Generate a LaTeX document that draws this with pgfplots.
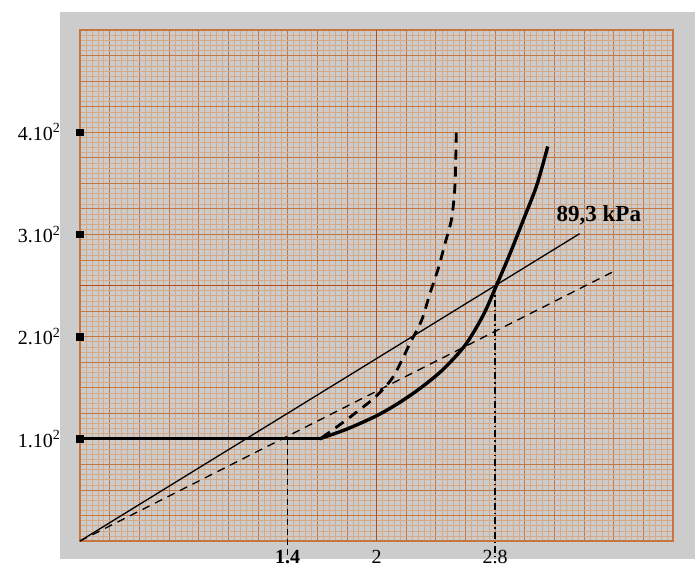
\documentclass[border=0pt]{standalone}
\usepackage{fontspec}
\setmainfont{Liberation Serif}
\usepackage{pgfplots}
\pgfplotsset{compat=1.18}
\definecolor{bggrey}{RGB}{204,204,204}
\definecolor{gridfine}{RGB}{214,170,134}
\definecolor{gridmed}{RGB}{198,118,62}
\definecolor{gridctr}{RGB}{182,76,26}
\begin{document}
\begin{tikzpicture}
\fill[bggrey] (-20pt,-18pt) rectangle (615pt,529pt);
\begin{axis}[
  at={(0pt,0pt)}, anchor=south west,
  scale only axis, width=593pt, height=511pt,
  xmin=0, xmax=4, ymin=0, ymax=500,
  clip=false,
  axis line style={draw=gridmed, line width=1.5pt},
  xtick={0,0.2,...,4.01},
  ytick={0,25,...,501},
  minor x tick num=4, minor y tick num=4,
  grid=both,
  minor grid style={draw=gridfine, line width=0.45pt},
  major grid style={draw=gridmed, line width=0.7pt},
  major tick length=0pt, minor tick length=0pt,
  xticklabels={,,,,,,,{\textbf{1.4}},,,2,,,,2.8,,,,,,},
  yticklabels={,,,,{1.10\textsuperscript{2}},,,,{2.10\textsuperscript{2}},,,,{3.10\textsuperscript{2}},,,,{4.10\textsuperscript{2}},,,,},
  xticklabel style={font=\fontsize{20}{22}\selectfont, anchor=north},
  yticklabel style={font=\fontsize{20}{22}\selectfont, anchor=east},
  xticklabel shift=6pt,
  yticklabel shift=16pt,
  extra x ticks={2}, extra y ticks={250},
  extra x tick labels={}, extra y tick labels={},
  extra tick style={grid=major, major grid style={draw=gridctr, line width=1.6pt}},
]
% tick squares
\addplot[only marks, mark=square*, mark size=3.3pt, black] coordinates {(0,100) (0,200) (0,300) (0,400)};
% thin solid line 89.3 kPa
\addplot[black, line width=1.3pt] coordinates {(0,0) (3.37,300.7)};
% thin dashed line
\addplot[black, line width=1.3pt, dash pattern=on 8pt off 6pt] coordinates {(0,0) (3.59,263)};
% verticals
\addplot[black, line width=1.4pt, dash pattern=on 6pt off 4pt] coordinates {(1.4,100) (1.4,-16)};
\addplot[black, line width=1.4pt, dash pattern=on 7pt off 3pt on 1.5pt off 3pt] coordinates {(2.8,250) (2.8,-16)};
% thick dashed curve
\addplot[black, line width=2.8pt, dash pattern=on 10pt off 7pt, smooth, tension=0.5] coordinates {
 (1.63,101) (1.77,115.6) (1.9,130) (2.0,142) (2.113,160.8) (2.226,193.4) (2.305,216.2) (2.361,242.4) (2.417,266.8) (2.462,291) (2.507,315.7) (2.530,350) (2.538,400)};
% thick solid curve
\addplot[black, line width=3.4pt] coordinates {(0,100) (1.616,100)};
\addplot[black, line width=3.4pt, smooth, tension=0.5] coordinates {
 (1.616,100) (1.8,109.5) (2.0,122.5) (2.15,135) (2.3,150) (2.45,168) (2.6,192) (2.72,221) (2.806,249) (2.9,281) (2.99,314) (3.081,348) (3.155,386)};
\node[font=\fontsize{23}{26}\selectfont\bfseries] at (axis cs:3.50,319) {89,3 kPa};
\end{axis}
\pgfresetboundingbox
\useasboundingbox (-80pt,-28pt) rectangle (619pt,541pt);
\end{tikzpicture}
\end{document}
